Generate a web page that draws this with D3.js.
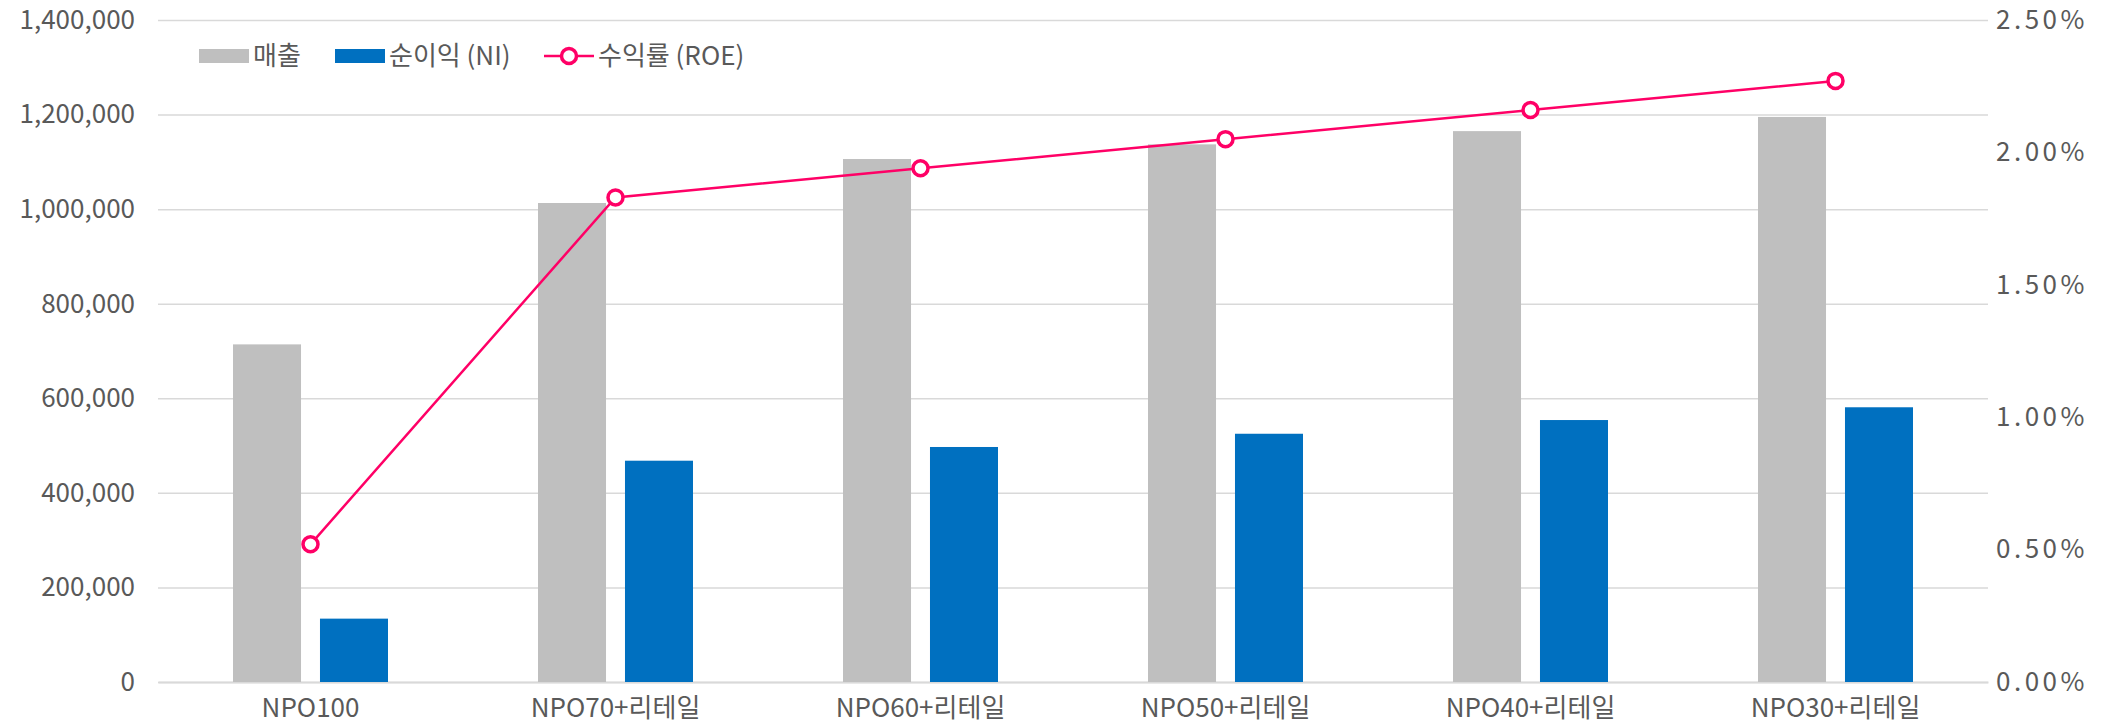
<!DOCTYPE html>
<html>
<head>
<meta charset="utf-8">
<script src="https://cdn.jsdelivr.net/npm/d3@7"></script>
<style>
	body { margin: 0; background: #fff; }
	svg text { font-family: "Noto Sans CJK KR", "Noto Sans", sans-serif; fill: #595959; }
</style>
</head>
<body>
<svg id="chart" width="2110" height="727"></svg>
<script>
// data
const categories = ["NPO100", "NPO70+리테일", "NPO60+리테일", "NPO50+리테일", "NPO40+리테일", "NPO30+리테일"];
const sales = [714000, 1013000, 1106000, 1137000, 1165000, 1195000];
const netIncome = [134000, 468000, 497000, 525000, 554000, 581000];
const roe = [0.52, 1.83, 1.94, 2.05, 2.16, 2.27]; // percent
const leftTicks = [0, 200000, 400000, 600000, 800000, 1000000, 1200000, 1400000];
const rightTicks = [0, 0.5, 1.0, 1.5, 2.0, 2.5];
const seriesNames = ["매출", "순이익 (NI)", "수익률 (ROE)"];

const svg = d3.select("#chart");
const margin = {top: 20, right: 122, bottom: 45, left: 158};
const width = 2110 - margin.left - margin.right;
const height = 727 - margin.top - margin.bottom;
const fontSize = 26;

const g = svg.append("g").attr("transform", "translate(" + margin.left + "," + margin.top + ")");

const x0 = d3.scaleBand().domain(categories).range([0, width]).padding(0);
const x1 = d3.scaleBand().domain(["sales", "ni"]).range([-77.5, 77.5]).paddingInner(0.218);
const yLeft = d3.scaleLinear().domain([0, 1400000]).range([height, 0]);
const yRight = d3.scaleLinear().domain([0, 2.5]).range([height, 0]);

// gridlines + left axis
const leftAxis = g.append("g")
	.call(d3.axisLeft(yLeft).tickValues(leftTicks).tickFormat(d3.format(",")).tickSize(-width).tickPadding(23));
leftAxis.select(".domain").remove();
leftAxis.selectAll(".tick line").attr("stroke", "#d9d9d9").attr("stroke-width", 1.5);
leftAxis.selectAll(".tick text").style("font-size", fontSize + "px");

// right axis (wider spaced glyphs in the original)
const rightAxis = g.append("g")
	.attr("transform", "translate(" + width + ",0)")
	.call(d3.axisRight(yRight).tickValues(rightTicks).tickFormat(function(d) { return d3.format(".2f")(d) + "%"; }).tickSize(0).tickPadding(8));
rightAxis.select(".domain").remove();
rightAxis.selectAll(".tick text").style("font-size", fontSize + "px").style("letter-spacing", "3.5px");

// bottom axis
const bottomAxis = g.append("g")
	.attr("transform", "translate(0," + height + ")")
	.call(d3.axisBottom(x0).tickSize(0).tickPadding(17));
bottomAxis.select(".domain").attr("stroke", "#d9d9d9").attr("stroke-width", 2);
bottomAxis.selectAll(".tick text").style("font-size", fontSize + "px");

// bars
const groups = g.selectAll(".cat")
	.data(categories)
	.enter().append("g")
	.attr("class", "cat")
	.attr("transform", function(d) { return "translate(" + (x0(d) + x0.bandwidth() / 2) + ",0)"; });

groups.append("rect")
	.attr("x", x1("sales"))
	.attr("width", x1.bandwidth())
	.attr("y", function(d, i) { return yLeft(sales[i]); })
	.attr("height", function(d, i) { return height - yLeft(sales[i]); })
	.attr("fill", "#bfbfbf");

groups.append("rect")
	.attr("x", x1("ni"))
	.attr("width", x1.bandwidth())
	.attr("y", function(d, i) { return yLeft(netIncome[i]); })
	.attr("height", function(d, i) { return height - yLeft(netIncome[i]); })
	.attr("fill", "#0070c0");

// ROE line
const lineColor = "#ff0066";
const line = d3.line()
	.x(function(d, i) { return x0(categories[i]) + x0.bandwidth() / 2; })
	.y(function(d) { return yRight(d); });

g.append("path")
	.datum(roe)
	.attr("d", line)
	.attr("fill", "none")
	.attr("stroke", lineColor)
	.attr("stroke-width", 2.5);

g.selectAll(".marker")
	.data(roe)
	.enter().append("circle")
	.attr("class", "marker")
	.attr("cx", function(d, i) { return x0(categories[i]) + x0.bandwidth() / 2; })
	.attr("cy", function(d) { return yRight(d); })
	.attr("r", 7.5)
	.attr("fill", "#fff")
	.attr("stroke", lineColor)
	.attr("stroke-width", 3.5);

// legend
const legend = svg.append("g").attr("transform", "translate(0,56)");
legend.append("rect").attr("x", 199).attr("y", -7).attr("width", 50).attr("height", 14).attr("fill", "#bfbfbf");
legend.append("text").attr("x", 253).attr("y", 0).attr("dy", "0.35em").style("font-size", fontSize + "px").text(seriesNames[0]);
legend.append("rect").attr("x", 335).attr("y", -7).attr("width", 50).attr("height", 14).attr("fill", "#0070c0");
legend.append("text").attr("x", 389).attr("y", 0).attr("dy", "0.35em").style("font-size", fontSize + "px").text(seriesNames[1]);
legend.append("line").attr("x1", 544).attr("x2", 594).attr("y1", 0).attr("y2", 0).attr("stroke", lineColor).attr("stroke-width", 2.5);
legend.append("circle").attr("cx", 569).attr("cy", 0).attr("r", 7.5).attr("fill", "#fff").attr("stroke", lineColor).attr("stroke-width", 3.5);
legend.append("text").attr("x", 598).attr("y", 0).attr("dy", "0.35em").style("font-size", fontSize + "px").text(seriesNames[2]);
</script>
</body>
</html>
